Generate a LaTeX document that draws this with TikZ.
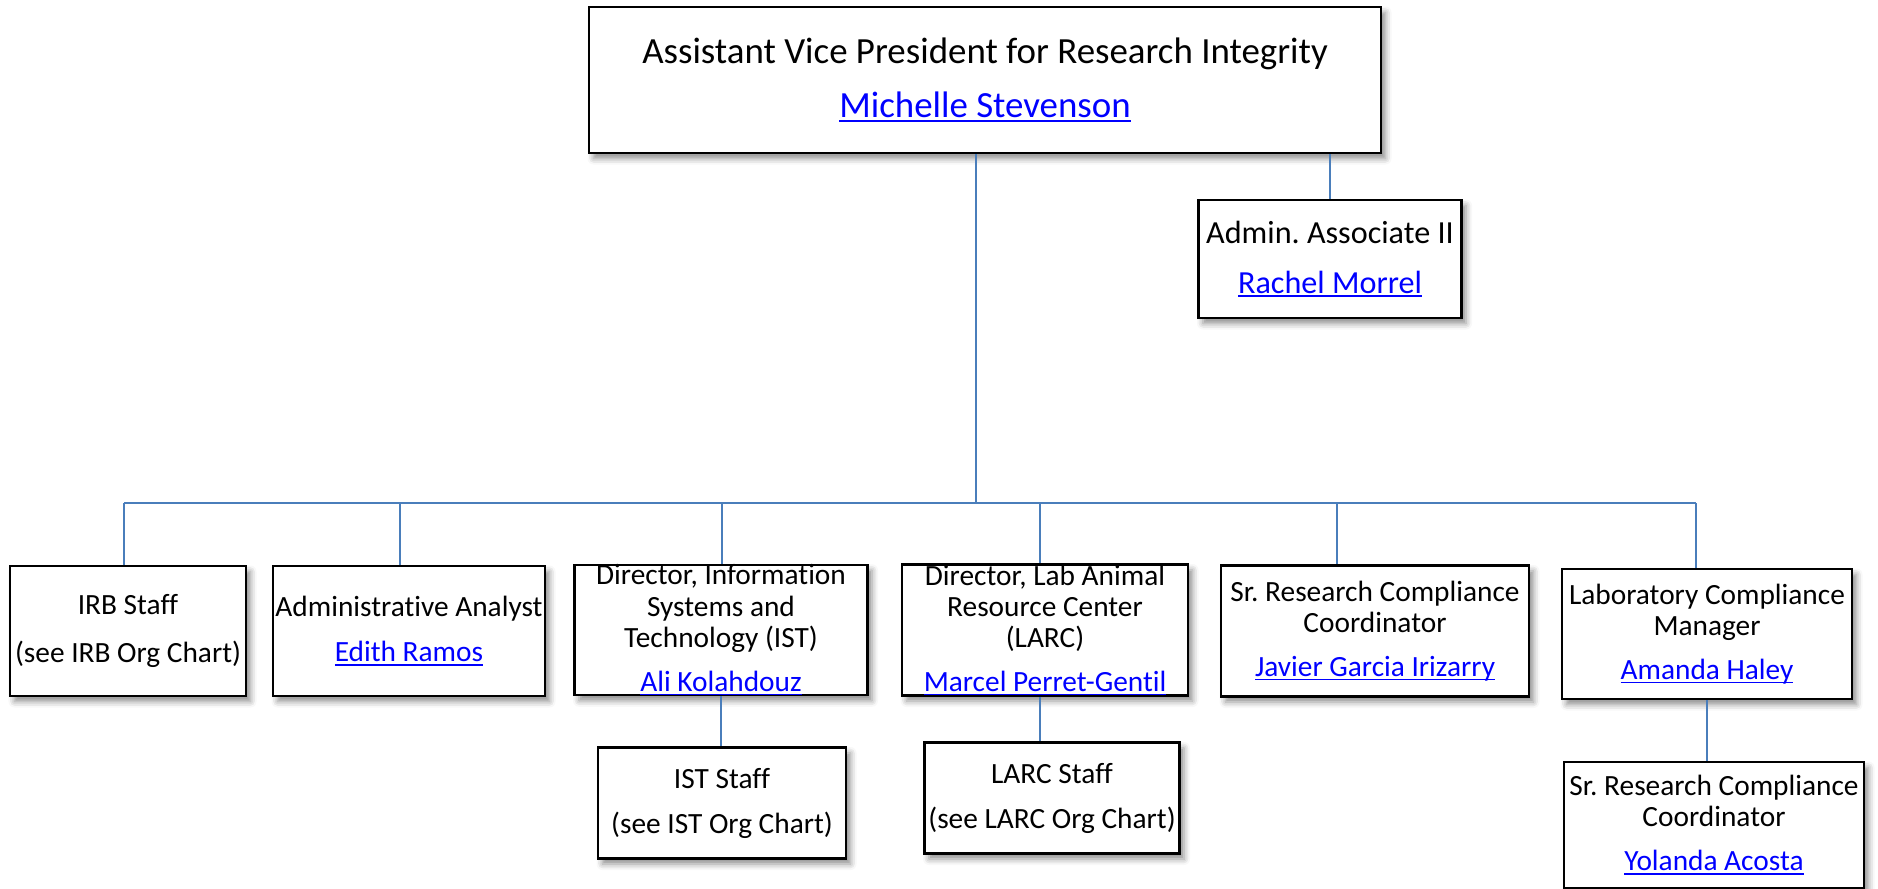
\documentclass[tikz,border=0pt]{standalone}
\usepackage{fontspec}
\setmainfont{Carlito}[Ligatures=NoCommon]
\frenchspacing
\usepackage{xcolor}
\usetikzlibrary{calc, positioning, shadows.blur}

\definecolor{linkblue}{RGB}{0,0,255}
\definecolor{chartline}{RGB}{74,126,187}
\newcommand{\lnk}[1]{\textcolor{linkblue}{\setbox0\hbox{#1}\rlap{\rule[-0.13em]{\wd0}{0.055em}}\box0}}

\begin{document}
\begin{tikzpicture}[x=0.2mm, y=-0.2mm,
			post/.style={draw, line width=0.45mm, fill=white, align=center, inner sep=0pt,
				blur shadow={shadow xshift=0.9mm, shadow yshift=-1.1mm, shadow blur radius=1.2mm, shadow opacity=45}},
			vp/.style={post, font=\fontsize{21}{25}\selectfont},
			assoc/.style={post, font=\fontsize{18.3}{22}\selectfont},
			unit/.style={post, font=\fontsize{16.7}{17.8}\selectfont},
			branch/.style={draw=chartline, line width=0.42mm}
			]
			\useasboundingbox (0,0) rectangle (1878,888);
			\node [vp, minimum width=158.4mm, minimum height=29.2mm](avp) at (985,80) {Assistant Vice President for Research Integrity\\[5.7pt]\lnk{Michelle Stevenson}};
			\node [assoc, minimum width=52.6mm, minimum height=23.6mm](aa) at (1330,259) {Admin. Associate II\\[6.4pt]\lnk{Rachel Morrel}};
			\node [unit, minimum width=47.2mm, minimum height=26mm](irb) at (128,631) {IRB Staff\\[10pt](see IRB Org Chart)};
			\node [unit, minimum width=54.4mm, minimum height=26mm](ana) at (409,631) {Administrative Analyst\\[7.8pt]\lnk{Edith Ramos}};
			\node [unit, minimum width=58.6mm, minimum height=26mm](ist) at (721,630) {Director, Information\\Systems and\\Technology (IST)\\[7.2pt]\lnk{Ali Kolahdouz}};
			\node [unit, minimum width=57.2mm, minimum height=26.2mm](larc) at (1045,630) {Director, Lab Animal\\Resource Center\\(LARC)\\[7.2pt]\lnk{Marcel Perret-Gentil}};
			\node [unit, minimum width=61.6mm, minimum height=26.2mm](rcc) at (1375,631) {Sr. Research Compliance\\Coordinator\\[7.2pt]\lnk{Javier Garcia Irizarry}};
			\node [unit, minimum width=58mm, minimum height=26mm](lcm) at (1707,634) {Laboratory Compliance\\Manager\\[7.2pt]\lnk{Amanda Haley}};
			\node [unit, minimum width=49.6mm, minimum height=22.2mm](iststaff) at (722,803) {IST Staff\\[7.8pt](see IST Org Chart)};
			\node [unit, minimum width=51mm, minimum height=22.2mm](larcstaff) at (1052,798) {LARC Staff\\[7.8pt](see LARC Org Chart)};
			\node [unit, minimum width=60mm, minimum height=25.2mm](rcc2) at (1714,825) {Sr. Research Compliance\\Coordinator\\[7.2pt]\lnk{Yolanda Acosta}};
			% reporting lines
			\coordinate (bus) at (976,503);
			\draw[branch] (avp.south -| bus) -- (bus);
			\draw[branch] (avp.south -| aa.north) -- (aa.north);
			\foreach \n/\dx in {irb/-4, ana/-9, ist/1, larc/-5, rcc/-38, lcm/-11}
				\coordinate (d\n) at ([xshift=\dx*0.2mm]\n.north);
			\draw[branch] (dirb |- bus) -- (dlcm |- bus);
			\foreach \n in {irb, ana, ist, larc, rcc, lcm}
				\draw[branch] (d\n |- bus) -- (d\n);
			\draw[branch] (ist.south) -- (ist.south |- iststaff.north);
			\draw[branch] (dlarc |- larc.south) -- (dlarc |- larcstaff.north);
			\draw[branch] (lcm.south) -- (lcm.south |- rcc2.north);
		\end{tikzpicture}
\end{document}
